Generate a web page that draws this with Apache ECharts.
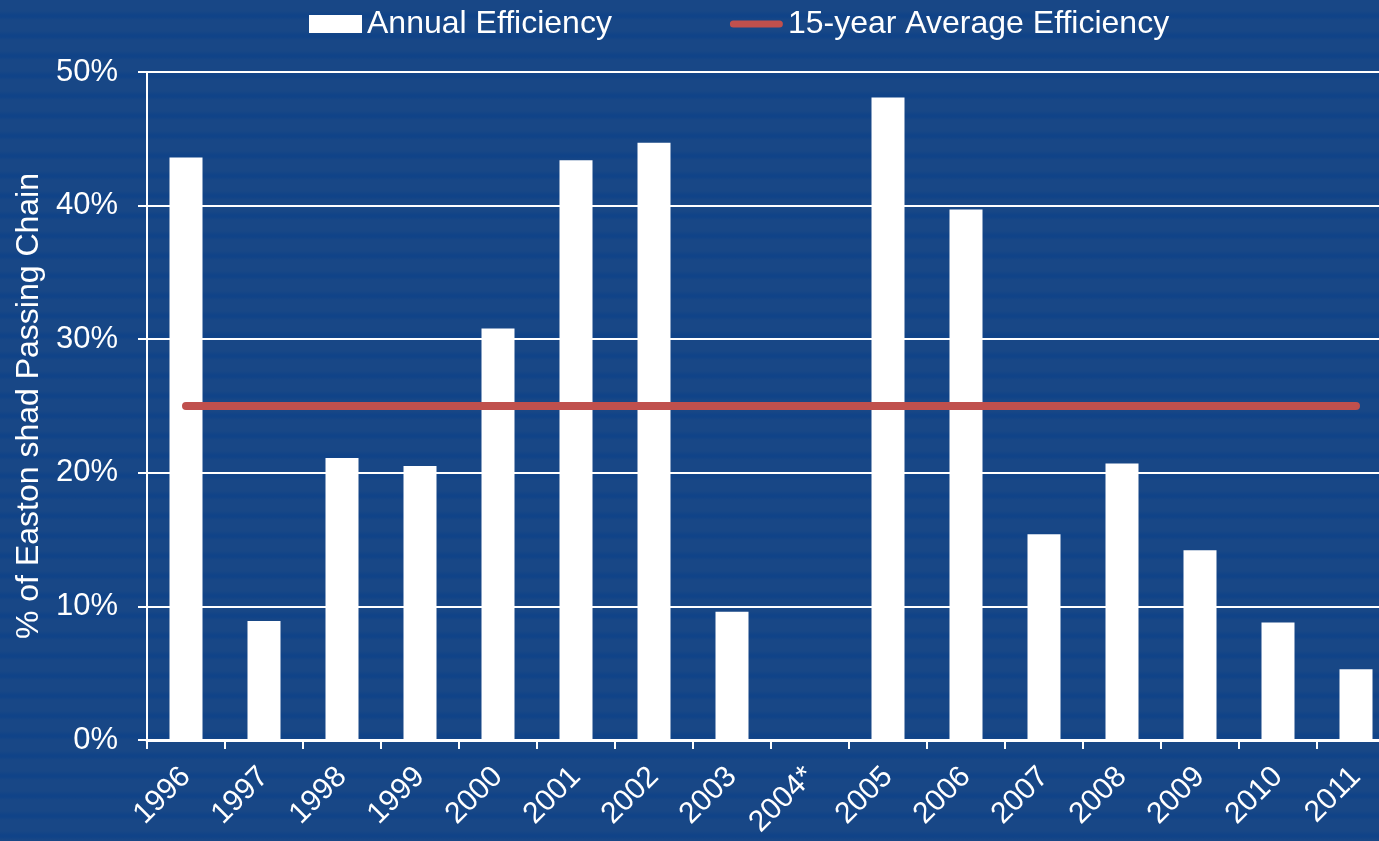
<!DOCTYPE html>
<html>
<head>
<meta charset="utf-8">
<script src="https://cdn.jsdelivr.net/npm/echarts@6/dist/echarts.min.js"></script>
<style>
  html, body {
    margin: 0;
    padding: 0;
    width: 1379px;
    height: 841px;
    overflow: hidden;
    background-color: #184786;
    background-image: repeating-linear-gradient(to bottom, #184786 0px, #184786 11px, #104388 15px, #104388 17px, #184786 20px);
  }
  /* the plot runs past the right edge of the picture, as in the original */
  #chart {
    width: 1395px;
    height: 841px;
  }
</style>
</head>
<body>
<div id="chart"></div>
<script>
// data
const years = ['1996', '1997', '1998', '1999', '2000', '2001', '2002', '2003', '2004*', '2005', '2006', '2007', '2008', '2009', '2010', '2011'];
const annualEfficiency = [43.6, 8.9, 21.1, 20.5, 30.8, 43.4, 44.7, 9.6, null, 48.1, 39.7, 15.4, 20.7, 14.2, 8.8, 5.3];
const averageEfficiency = [25, 25, 25, 25, 25, 25, 25, 25, 25, 25, 25, 25, 25, 25, 25, 25];
const yTicks = [0, 10, 20, 30, 40, 50];

const fontFamily = '"Liberation Sans", Arial, sans-serif';
const lineColor = '#c0504d';

const myChart = echarts.init(document.getElementById('chart'), null, { renderer: 'canvas' });

const option = {
  backgroundColor: 'transparent',
  animation: false,
  textStyle: { fontFamily: fontFamily },
  legend: {
    left: 309,
    top: 8,
    padding: 0,
    itemWidth: 53,
    itemHeight: 18,
    itemGap: 118,
    textStyle: { color: '#ffffff', fontSize: 32, fontFamily: fontFamily },
    data: [
      { name: 'Annual Efficiency', icon: 'rect' },
      {
        name: '15-year Average Efficiency',
        icon: 'path://M4,0 L56,0 A4,4 0 0 1 56,8 L4,8 A4,4 0 0 1 4,0 Z',
        itemStyle: { color: lineColor }
      }
    ]
  },
  grid: {
    left: 147,
    top: 72,
    bottom: 101,
    right: 0
  },
  xAxis: {
    type: 'category',
    data: years,
    axisLine: { lineStyle: { color: '#ffffff', width: 3 } },
    axisTick: { show: true, length: 9, lineStyle: { color: '#ffffff', width: 2 } },
    axisLabel: {
      color: '#ffffff',
      fontSize: 30,
      rotate: 45,
      margin: 32,
      interval: 0
    },
    splitLine: { show: false }
  },
  yAxis: {
    type: 'value',
    min: yTicks[0],
    max: yTicks[yTicks.length - 1],
    interval: 10,
    name: '% of Easton shad Passing Chain',
    nameLocation: 'middle',
    nameGap: 102,
    nameTextStyle: { color: '#ffffff', fontSize: 32, fontFamily: fontFamily },
    axisLine: { show: true, lineStyle: { color: '#ffffff', width: 2 } },
    axisTick: { show: true, length: 9, lineStyle: { color: '#ffffff', width: 2 } },
    axisLabel: {
      color: '#ffffff',
      fontSize: 31,
      margin: 29,
      formatter: '{value}%'
    },
    splitLine: { show: true, lineStyle: { color: '#ffffff', width: 2 } }
  },
  series: [
    {
      name: 'Annual Efficiency',
      type: 'bar',
      barWidth: 33,
      itemStyle: { color: '#ffffff' },
      data: annualEfficiency,
      z: 2
    },
    {
      name: '15-year Average Efficiency',
      type: 'line',
      symbol: 'none',
      lineStyle: { color: lineColor, width: 8, cap: 'round' },
      itemStyle: { color: lineColor },
      data: averageEfficiency,
      z: 3
    }
  ]
};

myChart.setOption(option);
</script>
</body>
</html>
